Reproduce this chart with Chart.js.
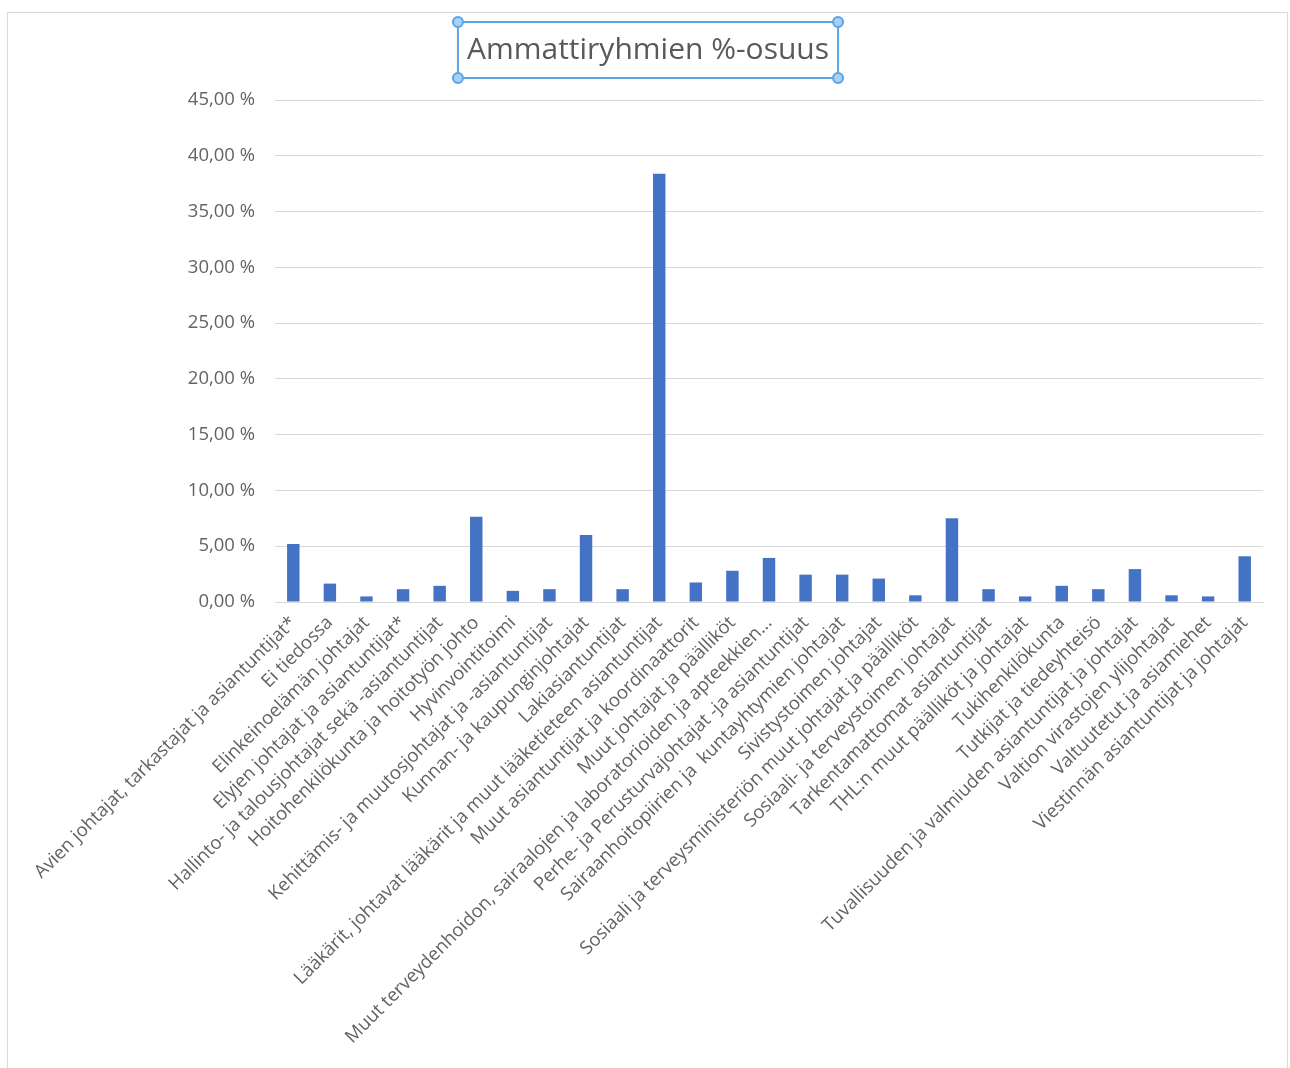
<!DOCTYPE html>
<html>
<head>
<meta charset="utf-8">
<script src="https://cdn.jsdelivr.net/npm/chart.js@4/dist/chart.umd.min.js"></script>
<style>
  html, body { margin: 0; padding: 0; background: #fff; }
  #frame { position: absolute; left: 7px; top: 12px; width: 1281px; height: 1070px; border: 1px solid #d9d9d9; box-sizing: border-box; }
  #wrap { position: absolute; left: 0; top: 0; width: 1290px; height: 1068px; }
</style>
</head>
<body>
<div id="frame"></div>
<div id="wrap"><canvas id="c" width="1290" height="1068"></canvas></div>
<script>
const titleText = 'Ammattiryhmien %-osuus';

const categories = [
  'Avien johtajat, tarkastajat ja asiantuntijat*',
  'Ei tiedossa',
  'Elinkeinoelämän johtajat',
  'Elyjen johtajat ja asiantuntijat*',
  'Hallinto- ja talousjohtajat sekä -asiantuntijat',
  'Hoitohenkilökunta ja hoitotyön johto',
  'Hyvinvointitoimi',
  'Kehittämis- ja muutosjohtajat ja -asiantuntijat',
  'Kunnan- ja kaupunginjohtajat',
  'Lakiasiantuntijat',
  'Lääkärit, johtavat lääkärit ja muut lääketieteen asiantuntijat',
  'Muut asiantuntijat ja koordinaattorit',
  'Muut johtajat ja päälliköt',
  'Muut terveydenhoidon, sairaalojen ja laboratorioiden ja apteekkien...',
  'Perhe- ja Perusturvajohtajat -ja asiantuntijat',
  'Sairaanhoitopiirien ja  kuntayhtymien johtajat',
  'Sivistystoimen johtajat',
  'Sosiaali ja terveysministeriön muut johtajat ja päälliköt',
  'Sosiaali- ja terveystoimen johtajat',
  'Tarkentamattomat asiantuntijat',
  'THL:n muut päälliköt ja johtajat',
  'Tukihenkilökunta',
  'Tutkijat ja tiedeyhteisö',
  'Tuvallisuuden ja valmiuden asiantuntijat ja johtajat',
  'Valtion virastojen ylijohtajat',
  'Valtuutetut ja asiamiehet',
  'Viestinnän asiantuntijat ja johtajat'
];

const shares = [
  5.2, 1.65, 0.5, 1.15, 1.45, 7.65, 1.0, 1.15, 6.0, 1.15,
  38.4, 1.75, 2.8, 3.95, 2.45, 2.45, 2.1, 0.6, 7.5, 1.15,
  0.5, 1.45, 1.15, 2.95, 0.6, 0.5, 4.1
];

const yMin = 0;
const yMax = 45;
const yStep = 5;

const fontFamily = '"Open Sans", "Noto Sans", sans-serif';
const textColor = '#636363';
const titleColor = '#595959';
const gridColor = '#d9d9d9';
const barColor = '#4472c4';
const titleSize = 30;

const titleBoxPlugin = {
  id: 'titleBox',
  afterDraw(chart) {
    const tb = chart.titleBlock;
    if (!tb) return;
    const ctx = chart.ctx;
    ctx.save();
    ctx.font = titleSize + 'px ' + fontFamily;
    const w = ctx.measureText(titleText).width;
    const cx = (tb.left + tb.right) / 2;
    const cy = tb.top + tb.height / 2;
    const bx0 = cx - w / 2 - 9, bx1 = cx + w / 2 + 9;
    const by0 = cy - 28, by1 = cy + 28;
    ctx.strokeStyle = '#5aa3e6';
    ctx.lineWidth = 2;
    ctx.strokeRect(bx0, by0, bx1 - bx0, by1 - by0);
    ctx.fillStyle = '#a9d0f5';
    [[bx0, by0], [bx1, by0], [bx0, by1], [bx1, by1]].forEach(([x, y]) => {
      ctx.beginPath();
      ctx.arc(x, y, 5, 0, Math.PI * 2);
      ctx.fill();
      ctx.stroke();
    });
    ctx.restore();
  }
};

new Chart(document.getElementById('c'), {
  type: 'bar',
  data: {
    labels: categories,
    datasets: [{
      data: shares,
      backgroundColor: barColor,
      borderWidth: 0,
      categoryPercentage: 1.0,
      barPercentage: 0.34
    }]
  },
  options: {
    responsive: false,
    animation: false,
    devicePixelRatio: 1,
    layout: { padding: { left: 33, right: 27, top: 0, bottom: 0 } },
    plugins: {
      legend: { display: false },
      tooltip: { enabled: false },
      title: {
        display: true,
        text: titleText,
        color: titleColor,
        font: { family: fontFamily, size: titleSize, weight: 'normal', lineHeight: 1.2 },
        padding: { top: 32, bottom: 32 }
      }
    },
    scales: {
      x: {
        grid: { display: false, drawTicks: false },
        border: { display: true, color: gridColor, width: 1 },
        ticks: {
          color: textColor,
          font: { family: fontFamily, size: 18.5 },
          autoSkip: false,
          maxRotation: 45,
          minRotation: 45,
          padding: 10
        },
        afterFit(scale) { scale.height = 466; }
      },
      y: {
        min: yMin,
        max: yMax,
        grid: { color: gridColor, lineWidth: 1, drawTicks: false },
        border: { display: false },
        ticks: {
          stepSize: yStep,
          color: textColor,
          font: { family: fontFamily, size: 18.5 },
          padding: 20,
          callback: v => v.toFixed(2).replace('.', ',') + ' %'
        },
        afterFit(scale) { scale.width = 242; }
      }
    }
  },
  plugins: [titleBoxPlugin]
});
</script>
</body>
</html>
